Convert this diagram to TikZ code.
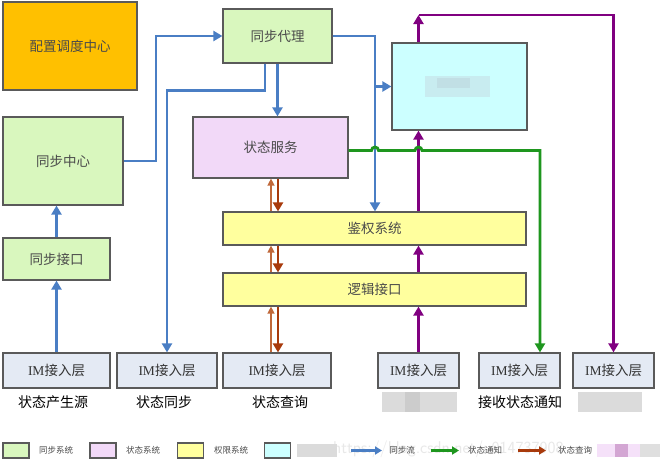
\documentclass[tikz,border=0pt]{standalone}
\usepackage{fontspec}
\setmainfont{Liberation Serif}
\newfontfamily\cjk{Noto Sans CJK SC}
\usetikzlibrary{arrows.meta}
\definecolor{gfill}{HTML}{D9F7BE}
\definecolor{pfill}{HTML}{F2D9F8}
\definecolor{yfill}{HTML}{FFFF9E}
\definecolor{cfill}{HTML}{CCFFFF}
\definecolor{ofill}{HTML}{FFC000}
\definecolor{imfill}{HTML}{E4EAF4}
\definecolor{boxline}{HTML}{5A5A5A}
\definecolor{txt}{HTML}{4A4A4A}
\definecolor{bflow}{HTML}{4A7EC4}
\definecolor{pflow}{HTML}{800080}
\definecolor{gflow}{HTML}{1E961E}
\definecolor{rflow}{HTML}{A83A0C}
\definecolor{rflowl}{HTML}{C0683A}
\tikzset{
  box/.style={draw=boxline, line width=1.2pt, inner sep=0pt, text=txt,
    font=\cjk\fontsize{13.5}{15}\selectfont},
  imbox/.style={box, fill=imfill, minimum height=35pt, text=black!80},
  lbl/.style={font=\cjk\fontsize{14}{16}\selectfont, text=black, inner sep=0pt},
  legtxt/.style={font=\cjk\fontsize{8.5}{10}\selectfont, text=txt, inner sep=0pt},
  legbox/.style={draw=boxline, line width=1.4pt, minimum width=26pt, minimum height=15pt, inner sep=0pt},
  tip/.style={-{Triangle[width=10pt,length=9pt]}},
  blueflow/.style={tip, draw=bflow, line width=2.8pt},
  purpleflow/.style={tip, draw=pflow, line width=2.8pt},
  greenflow/.style={tip, draw=gflow, line width=2.8pt},
  qdown/.style={tip, draw=rflow, line width=2.7pt},
  qup/.style={-{Triangle[width=7pt,length=7pt]}, draw=rflowl, line width=1.4pt},
  blur/.style={fill=gray!28, draw=none}
}
\begin{document}
\begin{tikzpicture}[x=1pt,y=-1pt]
\useasboundingbox (0,0) rectangle (667,467);
\fill[white] (0,0) rectangle (667,467);

% watermark
\node[font=\sffamily\fontsize{17}{18}\selectfont, text=gray!18, inner sep=0pt, anchor=west] (wm) at (333,449) {https://blog.csdn.net/u014737908};

% boxes
\node[box, fill=ofill, minimum width=134pt, minimum height=88pt] (cfg) at (70,46) {配置调度中心};
\node[box, fill=gfill, minimum width=109pt, minimum height=54pt] (proxy) at (277.5,36) {同步代理};
\node[box, fill=gfill, minimum width=120pt, minimum height=88pt] (center) at (63,161) {同步中心};
\node[box, fill=gfill, minimum width=107pt, minimum height=42pt] (iface) at (56.5,259) {同步接口};
\node[box, fill=pfill, minimum width=155pt, minimum height=61pt] (state) at (270.5,147.5) {状态服务};
\node[box, fill=yfill, minimum width=303pt, minimum height=33pt] (auth) at (374.5,228.5) {鉴权系统};
\node[box, fill=yfill, minimum width=303pt, minimum height=33pt] (logic) at (374.5,289.5) {逻辑接口};
\node[box, fill=cfill, minimum width=135pt, minimum height=87pt] (cyan) at (459.5,86.5) {};
\fill[fill=cyan!30!gray!40, opacity=0.45] (425,76) rectangle (490,97);
\fill[fill=cyan!30!gray!50, opacity=0.4] (437,78) rectangle (470,88);

\node[imbox, minimum width=107pt] (im1) at (56.5,370.5) {{\rmfamily IM}接入层};
\node[imbox, minimum width=100pt] (im2) at (167,370.5) {{\rmfamily IM}接入层};
\node[imbox, minimum width=108pt] (im3) at (277,370.5) {{\rmfamily IM}接入层};
\node[imbox, minimum width=81pt] (im4) at (418.5,370.5) {{\rmfamily IM}接入层};
\node[imbox, minimum width=81pt] (im5) at (519.5,370.5) {{\rmfamily IM}接入层};
\node[imbox, minimum width=81pt] (im6) at (613.5,370.5) {{\rmfamily IM}接入层};

\node[lbl] (l1) at (53,402) {状态产生源};
\node[lbl] (l2) at (164,402) {状态同步};
\node[lbl] (l3) at (280,402) {状态查询};
\node[lbl] (l5) at (520,402) {接收状态通知};
\fill[blur] (382,392) rectangle (457,412);
\fill[gray!40] (405,392) rectangle (420,412);
\fill[blur] (578,392) rectangle (642,412);

% coordinates
\coordinate (jx) at (375,0);
\coordinate (ptop) at (418.5,15);
\coordinate (gx) at (540,150.5);
\coordinate (bu) at (271,0);
\coordinate (bd) at (278,0);

% blue flows
\draw[blueflow] (im1.north) -- (im1.north |- iface.south);
\draw[blueflow] (iface.north) -- (iface.north |- center.south);
\draw[blueflow] (center.east) -- (156,161) |- (proxy.west);
\draw[blueflow] ([xshift=-12.5pt]proxy.south) -- ++(0,27) -| (im2.north);
\draw[blueflow] (proxy.south) -- (proxy.south |- state.north);
\draw[blueflow] (proxy.east) -| (jx |- auth.north);
\draw[blueflow] (jx |- cyan.west) -- (cyan.west);

% purple flows
\draw[purpleflow] (im4.north) -- (im4.north |- logic.south);
\draw[purpleflow] (im4.north |- logic.north) -- (im4.north |- auth.south);
\draw[purpleflow] (im4.north |- auth.north) -- (im4.north |- cyan.south);
\draw[purpleflow] (im4.north |- cyan.north) -- (ptop);
\draw[purpleflow] (ptop) -| (im6.north);

% green flow with hops
\draw[greenflow] ([yshift=-3pt]state.east) -- (371.5,150.5)
  arc[start angle=180,end angle=360,radius=3.5] -- (415,150.5)
  arc[start angle=180,end angle=360,radius=3.5] -- (gx) -- (gx |- im5.north);

% brown query flows
\draw[qup] (bu |- auth.north) -- (bu |- state.south);
\draw[qdown] (bd |- state.south) -- (bd |- auth.north);
\draw[qup] (bu |- logic.north) -- (bu |- auth.south);
\draw[qdown] (bd |- auth.south) -- (bd |- logic.north);
\draw[qup] (bu |- im3.north) -- (bu |- logic.south);
\draw[qdown] (bd |- logic.south) -- (bd |- im3.north);

% legend
\node[legbox, fill=gfill] (lg1) at (16,450.5) {};
\node[legtxt] (lt1) at (56,450.5) {同步系统};
\node[legbox, fill=pfill] (lg2) at (103,450.5) {};
\node[legtxt] (lt2) at (143,450.5) {状态系统};
\node[legbox, fill=yfill] (lg3) at (190.5,450.5) {};
\node[legtxt] (lt3) at (231,450.5) {权限系统};
\node[legbox, fill=cfill] (lg4) at (277.5,450.5) {};
\fill[blur] (297,444) rectangle (337,457);
\coordinate (la1) at (351,450.5); \coordinate (lb1) at (382,450.5);
\draw[bflow, line width=2.2pt, -{Triangle[width=8pt,length=7pt]}] (la1) -- (lb1);
\node[legtxt] (lt5) at (402,450.5) {同步流};
\coordinate (la2) at (431,450.5); \coordinate (lb2) at (459,450.5);
\draw[gflow, line width=2.2pt, -{Triangle[width=8pt,length=7pt]}] (la2) -- (lb2);
\node[legtxt] (lt6) at (485,450.5) {状态通知};
\coordinate (la3) at (518,450.5); \coordinate (lb3) at (546,450.5);
\draw[rflow, line width=2.2pt, -{Triangle[width=8pt,length=7pt]}] (la3) -- (lb3);
\node[legtxt] (lt7) at (575,450.5) {状态查询};
\fill[pfill!80] (597,444) rectangle (640,457);
\fill[pflow!35] (615,444) rectangle (628,457);
\fill[gray!25] (640,444) rectangle (660,457);
\end{tikzpicture}
\end{document}
